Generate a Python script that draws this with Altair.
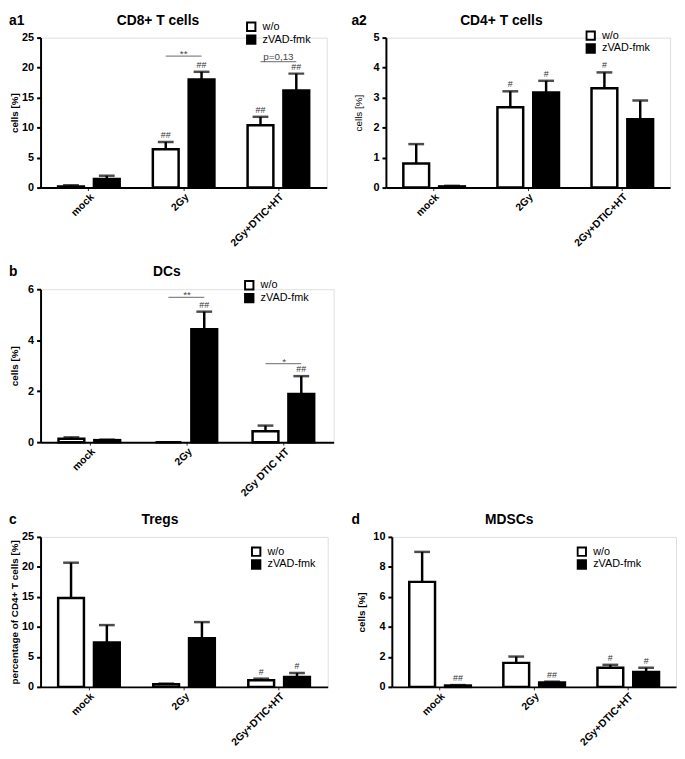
import altair as alt
import pandas as pd

FONT = "Liberation Sans"

groups = ["w/o", "zVAD-fmk"]
cats_a = ["mock", "2Gy", "2Gy+DTIC+HT"]
cats_b = ["mock", "2Gy", "2Gy DTIC HT"]

# a1: CD8+ T cells
a1_wo = [0.2, 6.4, 10.4]
a1_wo_err = [0.2, 1.2, 1.4]
a1_zv = [1.43, 18.0, 16.2]
a1_zv_err = [0.55, 1.3, 2.8]
a1_ann_wo = ["", "##", "##"]
a1_ann_zv = ["", "##", "##"]
a1_sig_cat = ["2Gy", "2Gy+DTIC+HT"]
a1_sig_y = [21.9, 21.0]
a1_sig_txt = ["**", "p=0,13"]

# a2: CD4+ T cells
a2_wo = [0.80, 2.68, 3.31]
a2_wo_err = [0.65, 0.53, 0.53]
a2_zv = [0.04, 3.17, 2.28]
a2_zv_err = [0.02, 0.39, 0.62]
a2_ann_wo = ["", "#", "#"]
a2_ann_zv = ["", "#", ""]

# b: DCs
b_wo = [0.13, 0.0, 0.43]
b_wo_err = [0.06, 0.0, 0.22]
b_zv = [0.08, 4.43, 1.89]
b_zv_err = [0.02, 0.69, 0.70]
b_ann_wo = ["", "", ""]
b_ann_zv = ["", "##", "##"]
b_sig_cat = ["2Gy", "2Gy DTIC HT"]
b_sig_y = [5.68, 3.08]
b_sig_txt = ["**", "*"]

# c: Tregs
c_wo = [14.8, 0.44, 1.1]
c_wo_err = [5.9, 0.11, 0.27]
c_zv = [7.4, 8.1, 1.65]
c_zv_err = [2.9, 2.7, 0.65]
c_ann_wo = ["", "", "#"]
c_ann_zv = ["", "", "#"]

# d: MDSCs
d_wo = [7.0, 1.6, 1.27]
d_wo_err = [2.0, 0.42, 0.2]
d_zv = [0.09, 0.3, 1.0]
d_zv_err = [0.03, 0.05, 0.27]
d_ann_wo = ["", "", "#"]
d_ann_zv = ["##", "##", "#"]


def panel(cats, wo, wo_err, zv, zv_err, ann_wo, ann_zv, sig_cat, sig_y, sig_txt,
          ymax, ystep, ytitle, ytitle_bold, title, label, width, height,
          leg_xy, title_xy, label_xy, y_extent, y_title_pad):
    rows = []
    for i, c in enumerate(cats):
        rows.append(dict(cat=c, grp=groups[0], val=wo[i], err=wo_err[i], ann=ann_wo[i]))
        rows.append(dict(cat=c, grp=groups[1], val=zv[i], err=zv_err[i], ann=ann_zv[i]))
    df = pd.DataFrame(rows)
    df["upper"] = df["val"] + df["err"]

    xaxis = alt.Axis(title=None, labelAngle=-45, labelFontSize=10.5, labelFontWeight="bold",
                     labelFont=FONT, labelColor="black", tickSize=3, tickWidth=1,
                     tickColor="#333", domainWidth=2, domainColor="black", labelPadding=1)
    yaxis = alt.Axis(title=ytitle, values=list(range(0, ymax + 1, ystep)), labelFontSize=11,
                     labelFontWeight="bold", labelFont=FONT, labelColor="black",
                     tickSize=4, tickWidth=2, tickColor="black", domainWidth=2,
                     domainColor="black", labelPadding=3, titleFontSize=10,
                     titleFontWeight="bold" if ytitle_bold else "normal", titleFont=FONT,
                     titleColor="black", titlePadding=y_title_pad, grid=False,
                     minExtent=y_extent, maxExtent=y_extent)
    xscale = alt.Scale(domain=cats, paddingInner=0.35, paddingOuter=0.185)
    yscale = alt.Scale(domain=[0, ymax], nice=False)
    oscale = alt.Scale(domain=groups, paddingInner=0.28, paddingOuter=0)

    def X():
        return alt.X("cat:N", scale=xscale, sort=cats, axis=xaxis)

    def XO():
        return alt.XOffset("grp:N", scale=oscale, sort=groups)

    def Y(field):
        return alt.Y(field, type="quantitative", scale=yscale, axis=yaxis)

    base = alt.Chart(df)
    bars = base.mark_bar(stroke="black", strokeWidth=2.5).encode(
        x=X(), xOffset=XO(), y=Y("val"),
        fill=alt.Fill("grp:N", scale=alt.Scale(domain=groups, range=["white", "black"]),
                      legend=alt.Legend(orient="none", legendX=leg_xy[0], legendY=leg_xy[1],
                                        title=None, symbolType="square", symbolSize=72,
                                        symbolStrokeColor="black", symbolStrokeWidth=2,
                                        labelFontSize=11, labelFont=FONT, labelColor="black",
                                        labelOffset=6, rowPadding=1, padding=0, clipHeight=12)),
    )
    err = base.transform_filter("datum.err > 0")
    rule = err.mark_rule(color="black", strokeWidth=2.5).encode(
        x=X(), xOffset=XO(), y=Y("val"), y2="upper:Q")
    cap = err.mark_tick(color="black", thickness=2.5, size=16).encode(
        x=X(), xOffset=XO(), y=Y("upper"))
    ann = base.transform_filter("datum.ann != ''").mark_text(
        fontSize=9, font=FONT, color="#333", baseline="alphabetic", dy=-4).encode(
        x=X(), xOffset=XO(), y=Y("upper"), text="ann:N")

    layers = [bars, rule, cap, ann]

    if sig_cat:
        srows = []
        for c, yv, t in zip(sig_cat, sig_y, sig_txt):
            for g in groups:
                srows.append(dict(cat=c, grp=g, y=yv, txt=t))
        sdf = pd.DataFrame(srows)
        sbase = alt.Chart(sdf)
        sline = sbase.mark_line(color="#888", strokeWidth=1.3).encode(
            x=X(), xOffset=XO(), y=Y("y"), detail="cat:N")
        stxt_star = sbase.transform_filter("indexof(datum.txt, '*') >= 0").transform_filter(
            "datum.grp == 'w/o'").mark_text(fontSize=10, font=FONT, color="#444",
                                             baseline="alphabetic", dy=1).encode(
            x=X(), y=Y("y"), text="txt:N")
        stxt_p = sbase.transform_filter("indexof(datum.txt, '*') < 0").transform_filter(
            "datum.grp == 'w/o'").mark_text(fontSize=10, font=FONT, color="#444",
                                             baseline="alphabetic", dy=-1.5).encode(
            x=X(), y=Y("y"), text="txt:N")
        layers += [sline, stxt_star, stxt_p]

    ttl = alt.Chart(pd.DataFrame({"t": [title]})).mark_text(
        fontSize=14, fontWeight="bold", font=FONT, color="black", align="center",
        baseline="middle").encode(x=alt.value(title_xy[0]), y=alt.value(title_xy[1]), text="t:N")
    lbl = alt.Chart(pd.DataFrame({"t": [label]})).mark_text(
        fontSize=14, fontWeight="bold", font=FONT, color="black", align="left",
        baseline="middle").encode(x=alt.value(label_xy[0]), y=alt.value(label_xy[1]), text="t:N")
    layers += [ttl, lbl]

    return alt.layer(*layers).properties(width=width, height=height)


pa1 = panel(cats_a, a1_wo, a1_wo_err, a1_zv, a1_zv_err, a1_ann_wo, a1_ann_zv,
            a1_sig_cat, a1_sig_y, a1_sig_txt, 25, 5, "cells [%]", True, "CD8+ T cells", "a1",
            290, 152, (208, -17), (119, -17), (-32, -17), 18, 3)
pa2 = panel(cats_a, a2_wo, a2_wo_err, a2_zv, a2_zv_err, a2_ann_wo, a2_ann_zv,
            [], [], [], 5, 1, "cells [%]", False, "CD4+ T cells", "a2",
            288, 152, (202, -8), (117, -17), (-35, -17), 13, 10)
pb = panel(cats_b, b_wo, b_wo_err, b_zv, b_zv_err, b_ann_wo, b_ann_zv,
           b_sig_cat, b_sig_y, b_sig_txt, 6, 2, "cells [%]", True, "DCs", "b",
           297, 155, (206, -10), (128, -17), (-32, -17), 18, 3)
pc = panel(cats_a, c_wo, c_wo_err, c_zv, c_zv_err, c_ann_wo, c_ann_zv,
           [], [], [], 25, 5, "percentage of CD4+ T cells [%]", True, "Tregs", "c",
           291, 152, (213, 9), (121, -17), (-32, -17), 18, 3)
pd_ = panel(cats_a, d_wo, d_wo_err, d_zv, d_zv_err, d_ann_wo, d_ann_zv,
            [], [], [], 10, 2, "cells [%]", True, "MDSCs", "d",
            288, 152, (187, 9), (119, -17), (-41, -17), 19, 7)

row1 = alt.hconcat(pa1, pa2, spacing=23).resolve_scale(fill="independent").resolve_legend(fill="independent")
row3 = alt.hconcat(pc, pd_, spacing=22).resolve_scale(fill="independent").resolve_legend(fill="independent")
top2 = alt.vconcat(row1, pb, spacing=16).resolve_scale(fill="independent").resolve_legend(fill="independent")

chart = alt.vconcat(top2, row3, spacing=13).resolve_scale(
    fill="independent").resolve_legend(fill="independent").properties(
    padding=0, background="white").configure_view(stroke=None).configure(font=FONT)

chart.save("out.html", embed_options={"renderer": "svg", "actions": False})
